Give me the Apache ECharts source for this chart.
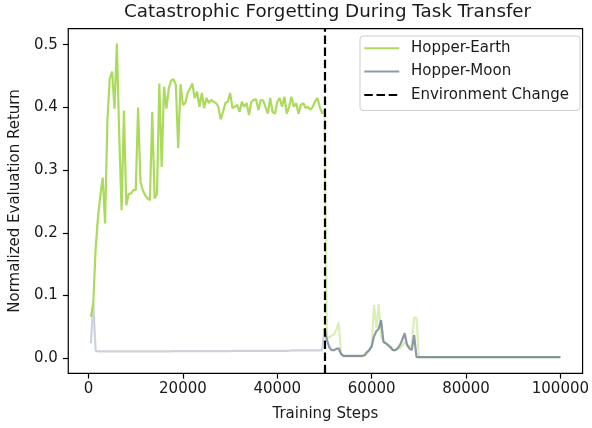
<!DOCTYPE html>
<html>
<head>
<meta charset="utf-8">
<script src="https://cdn.jsdelivr.net/npm/echarts@6/dist/echarts.min.js"></script>
<style>
html,body{margin:0;padding:0;background:#fff;}
#chart{width:592px;height:428px;}
</style>
</head>
<body>
<div id="chart"></div>
<script>
// ---- data ----
const titleText = 'Catastrophic Forgetting During Task Transfer';
const xLabel = 'Training Steps';
const yLabel = 'Normalized Evaluation Return';
const seriesNames = ['Hopper-Earth', 'Hopper-Moon', 'Environment Change'];
const evalInterval = 500;       // evaluation every 500 steps (500 .. 100000)
const envChangeStep = 50000;
const xTicks = [0, 20000, 40000, 60000, 80000, 100000];
const yTicks = [0.0, 0.1, 0.2, 0.3, 0.4, 0.5];

const earth = [
  0.066, 0.088, 0.175, 0.225, 0.26, 0.288, 0.215, 0.38, 0.446, 0.457,
  0.398, 0.502, 0.356, 0.236, 0.395, 0.244, 0.262, 0.263, 0.268, 0.268,
  0.40, 0.281, 0.268, 0.26, 0.255, 0.252, 0.393, 0.255, 0.262, 0.438,
  0.305, 0.433, 0.398, 0.43, 0.443, 0.445, 0.436, 0.335, 0.437, 0.404,
  0.407, 0.423, 0.43, 0.438, 0.415, 0.425, 0.401, 0.423, 0.399, 0.415,
  0.407, 0.412, 0.409, 0.407, 0.401, 0.381, 0.393, 0.407, 0.409, 0.423,
  0.399, 0.401, 0.404, 0.393, 0.409, 0.401, 0.407, 0.388, 0.409, 0.412,
  0.413, 0.396, 0.412, 0.411, 0.401, 0.39, 0.415, 0.393, 0.39, 0.409,
  0.415, 0.401, 0.417, 0.39, 0.401, 0.417, 0.401, 0.407, 0.39, 0.404,
  0.407, 0.399, 0.401, 0.396, 0.401, 0.409, 0.415, 0.401, 0.39, 0.395,
  0.03, 0.034, 0.036, 0.038, 0.045, 0.057, 0.008, 0.004, 0.003, 0.003,
  0.003, 0.003, 0.003, 0.003, 0.003, 0.003, 0.004, 0.008, 0.013, 0.02,
  0.085, 0.048, 0.087, 0.034, 0.028, 0.024, 0.02, 0.016, 0.013, 0.013,
  0.015, 0.016, 0.02, 0.026, 0.022, 0.019, 0.02, 0.065, 0.065, 0.002,
  0.002, 0.002, 0.002, 0.002, 0.002, 0.002, 0.002, 0.002, 0.002, 0.002,
  0.002, 0.002, 0.002, 0.002, 0.002, 0.002, 0.002, 0.002, 0.002, 0.002,
  0.002, 0.002, 0.002, 0.002, 0.002, 0.002, 0.002, 0.002, 0.002, 0.002,
  0.002, 0.002, 0.002, 0.002, 0.002, 0.002, 0.002, 0.002, 0.002, 0.002,
  0.002, 0.002, 0.002, 0.002, 0.002, 0.002, 0.002, 0.002, 0.002, 0.002,
  0.002, 0.002, 0.002, 0.002, 0.002, 0.002, 0.002, 0.002, 0.002, 0.002
];

const moon = [
  0.024, 0.088, 0.012, 0.011, 0.011, 0.011, 0.011, 0.011, 0.011, 0.011,
  0.011, 0.011, 0.011, 0.011, 0.011, 0.011, 0.011, 0.011, 0.011, 0.011,
  0.011, 0.011, 0.011, 0.011, 0.011, 0.011, 0.011, 0.011, 0.011, 0.011,
  0.011, 0.011, 0.011, 0.011, 0.011, 0.0115, 0.0115, 0.0115, 0.0115, 0.0115,
  0.0115, 0.0115, 0.0115, 0.0115, 0.0115, 0.0115, 0.0115, 0.0115, 0.0115, 0.0115,
  0.0115, 0.0115, 0.0115, 0.0115, 0.0115, 0.0115, 0.0115, 0.0115, 0.0115, 0.0115,
  0.012, 0.012, 0.012, 0.012, 0.012, 0.012, 0.012, 0.012, 0.012, 0.012,
  0.012, 0.012, 0.012, 0.012, 0.012, 0.012, 0.012, 0.012, 0.012, 0.012,
  0.012, 0.012, 0.012, 0.012, 0.012, 0.0125, 0.0125, 0.0125, 0.0125, 0.0125,
  0.0125, 0.0125, 0.0125, 0.0125, 0.0125, 0.0125, 0.0125, 0.0125, 0.0125, 0.047,
  0.03, 0.018, 0.013, 0.013, 0.015, 0.016, 0.007, 0.004, 0.004, 0.004,
  0.004, 0.004, 0.004, 0.004, 0.004, 0.004, 0.005, 0.01, 0.013, 0.019,
  0.035, 0.043, 0.047, 0.061, 0.026, 0.024, 0.021, 0.018, 0.013, 0.013,
  0.016, 0.021, 0.03, 0.04, 0.021, 0.016, 0.013, 0.037, 0.002, 0.002,
  0.002, 0.002, 0.002, 0.002, 0.002, 0.002, 0.002, 0.002, 0.002, 0.002,
  0.002, 0.002, 0.002, 0.002, 0.002, 0.002, 0.002, 0.002, 0.002, 0.002,
  0.002, 0.002, 0.002, 0.002, 0.002, 0.002, 0.002, 0.002, 0.002, 0.002,
  0.002, 0.002, 0.002, 0.002, 0.002, 0.002, 0.002, 0.002, 0.002, 0.002,
  0.002, 0.002, 0.002, 0.002, 0.002, 0.002, 0.002, 0.002, 0.002, 0.002,
  0.002, 0.002, 0.002, 0.002, 0.002, 0.002, 0.002, 0.002, 0.002, 0.002
];

// ---- build ----
const steps = earth.map((_, i) => (i + 1) * evalInterval);
function segment(vals, before) {
  const out = [];
  for (let i = 0; i < vals.length; i++) {
    const s = steps[i];
    if (before ? s <= envChangeStep : s >= envChangeStep) out.push([s, vals[i]]);
  }
  return out;
}

const FONT = 'DejaVu Sans';
const txt = '#1a1a1a';
const earthSolid = 'rgba(166,216,84,0.95)';
const earthPale = 'rgba(166,216,84,0.42)';
const moonSolid = 'rgba(112,128,144,0.8)';
const moonPale = 'rgba(112,128,144,0.35)';
const lw = 2.2;
const gridLeft = 67.5, gridRight = 4.3, gridTop = 28.7, gridBottom = 54.7;

const chart = echarts.init(document.getElementById('chart'), null, {renderer: 'canvas'});
chart.setOption({
  animation: false,
  backgroundColor: '#fff',
  textStyle: {fontFamily: FONT},
  graphic: [{
    type: 'text', silent: true,
    x: gridLeft + (592 - gridLeft - gridRight) / 2, y: 12,
    style: {text: titleText, fontFamily: FONT, fontSize: 18.3, fill: txt,
      textAlign: 'center', textVerticalAlign: 'middle'}
  }],
  grid: {
    left: gridLeft, right: gridRight, top: gridTop, bottom: gridBottom,
    show: true, borderColor: '#000', borderWidth: 1.2, backgroundColor: 'transparent'
  },
  legend: {
    orient: 'vertical', left: 360, top: 36,
    padding: [4.3, 11, 7.5, 3.3],
    itemWidth: 35, itemHeight: 16, itemGap: 7.3,
    backgroundColor: 'rgba(255,255,255,0.8)',
    borderColor: '#cccccc', borderWidth: 1, borderRadius: 3,
    itemStyle: {opacity: 0},
    textStyle: {fontFamily: FONT, fontSize: 15, color: txt, lineHeight: 16, padding: [0, 0, 0, 6.7]},
    data: seriesNames
  },
  xAxis: {
    type: 'value', min: -4300, max: 104700,
    name: xLabel, nameLocation: 'middle', nameGap: 33,
    nameTextStyle: {fontFamily: FONT, fontSize: 15, color: txt},
    axisLine: {show: false, onZero: false},
    splitLine: {show: false},
    axisTick: {show: true, inside: false, length: 5.3, lineStyle: {color: '#000', width: 1.2}, customValues: xTicks},
    axisLabel: {customValues: xTicks, margin: 8, fontFamily: FONT, fontSize: 15, color: txt,
      formatter: v => String(v)}
  },
  yAxis: {
    type: 'value', min: -0.0239, max: 0.5255,
    name: yLabel, nameLocation: 'middle', nameGap: 44,
    nameTextStyle: {fontFamily: FONT, fontSize: 15, color: txt},
    axisLine: {show: false, onZero: false},
    splitLine: {show: false},
    axisTick: {show: true, inside: false, length: 5.3, lineStyle: {color: '#000', width: 1.2}, customValues: yTicks},
    axisLabel: {customValues: yTicks, margin: 10.5, fontFamily: FONT, fontSize: 15, color: txt,
      formatter: v => v.toFixed(1)}
  },
  series: [
    {
      name: seriesNames[0], type: 'line', z: 3, symbol: 'none', silent: true,
      data: segment(earth, true),
      lineStyle: {color: earthSolid, width: lw}, itemStyle: {color: earthSolid}
    },
    {
      name: seriesNames[1], type: 'line', z: 4, symbol: 'none', silent: true,
      data: segment(moon, false),
      lineStyle: {color: moonSolid, width: lw}, itemStyle: {color: moonSolid}
    },
    {
      name: seriesNames[0], type: 'line', z: 2, symbol: 'none', silent: true,
      data: segment(earth, false),
      lineStyle: {color: earthPale, width: lw}, itemStyle: {color: earthPale}
    },
    {
      name: seriesNames[1], type: 'line', z: 2, symbol: 'none', silent: true,
      data: segment(moon, true),
      lineStyle: {color: moonPale, width: lw}, itemStyle: {color: moonPale}
    },
    {
      name: seriesNames[2], type: 'line', z: 5, symbol: 'none', silent: true,
      data: [],
      lineStyle: {color: '#000', width: 2.2, type: [8.5, 3.7]},
      itemStyle: {color: '#000'},
      markLine: {
        silent: true, symbol: ['none', 'none'], label: {show: false},
        lineStyle: {color: '#000', width: 2.2, type: [8.5, 3.7]},
        emphasis: {disabled: true},
        data: [{xAxis: envChangeStep}]
      }
    }
  ]
});
</script>
</body>
</html>
